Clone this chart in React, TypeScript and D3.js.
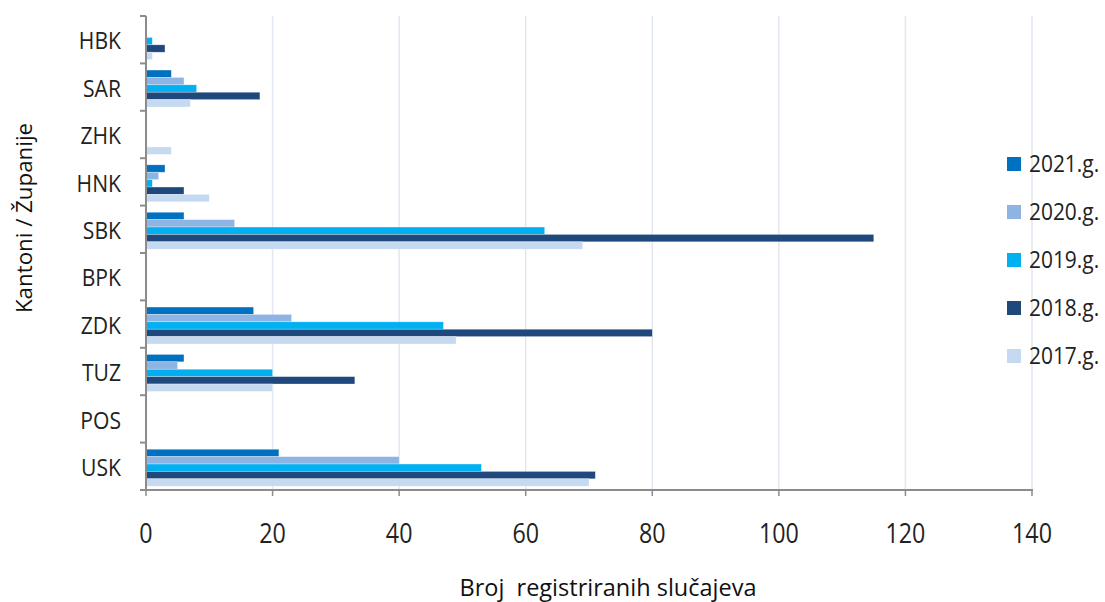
import React from "react";
import * as d3 from "d3";

const categories = ["HBK", "SAR", "ZHK", "HNK", "SBK", "BPK", "ZDK", "TUZ", "POS", "USK"];
const seriesNames = ["2021.g.", "2020.g.", "2019.g.", "2018.g.", "2017.g."];
const seriesColors = ["#0070C0", "#8DB4E2", "#00B0F0", "#1F497D", "#C5D9F1"];
const values2021 = [0, 4, 0, 3, 6, 0, 17, 6, 0, 21];
const values2020 = [0, 6, 0, 2, 14, 0, 23, 5, 0, 40];
const values2019 = [1, 8, 0, 1, 63, 0, 47, 20, 0, 53];
const values2018 = [3, 18, 0, 6, 115, 0, 80, 33, 0, 71];
const values2017 = [1, 7, 4, 10, 69, 0, 49, 20, 0, 70];
const seriesValues = [values2021, values2020, values2019, values2018, values2017];
const xTicks = [0, 20, 40, 60, 80, 100, 120, 140];

export default function App() {
  const W = 1105, H = 602;
  const left = 146, right = 1032, top = 16, bottom = 490;
  const x = d3.scaleLinear().domain([0, 140]).range([left, right]);
  const y = d3.scaleBand().domain(categories).range([top, bottom]).padding(0);
  const step = y.step();
  const barOffset = step * 0.14;
  const inner = d3.scaleBand().domain(seriesNames).range([0, step * 0.78]);
  const font = "'Open Sans', 'Noto Sans', sans-serif";
  return (
    <svg width={W} height={H} style={{ position: "absolute", left: 0, top: 0, background: "#fff" }}>
      {xTicks.slice(1).map((t) => (
        <line key={"g" + t} x1={x(t)} x2={x(t)} y1={top} y2={bottom} stroke="#E1E7F2" strokeWidth={1.5} />
      ))}
      {seriesValues.map((vals, si) =>
        categories.map((c, ci) =>
          vals[ci] > 0 ? (
            <rect
              key={si + "-" + c}
              x={x(0)}
              y={(y(c) as number) + barOffset + (inner(seriesNames[si]) as number)}
              width={x(vals[ci]) - x(0)}
              height={inner.bandwidth()}
              fill={seriesColors[si]}
              stroke="#ffffff"
              strokeOpacity={0.5}
              strokeWidth={0.6}
            />
          ) : null
        )
      )}
      <line x1={left} x2={left} y1={top} y2={bottom} stroke="#8C8C8C" strokeWidth={2} />
      <line x1={left - 6} x2={right + 1} y1={bottom} y2={bottom} stroke="#8C8C8C" strokeWidth={2} />
      {d3.range(categories.length).map((i) => (
        <line key={"yt" + i} x1={left - 6} x2={left} y1={top + step * i} y2={top + step * i} stroke="#8C8C8C" strokeWidth={2} />
      ))}
      {xTicks.map((t) => (
        <g key={"xt" + t}>
          <line x1={x(t)} x2={x(t)} y1={bottom} y2={bottom + 6} stroke="#8C8C8C" strokeWidth={1.5} />
          <text transform={`translate(${x(t)},${bottom + 53}) scale(0.83,1)`} textAnchor="middle" fontFamily={font} fontSize={28} fill="#222">
            {t}
          </text>
        </g>
      ))}
      {categories.map((c) => (
        <text
          key={"yl" + c}
          transform={`translate(121,${(y(c) as number) + step / 2 + 9.6}) scale(0.88,1)`}
          textAnchor="end"
          fontFamily={font}
          fontSize={24}
          fill="#222"
        >
          {c}
        </text>
      ))}
      {seriesNames.map((s, i) => (
        <g key={"lg" + s}>
          <rect x={1007} y={157 + i * 48} width={14} height={14} fill={seriesColors[i]} />
          <text transform={`translate(1029,${171.5 + i * 48}) scale(0.91,1)`} fontFamily={font} fontSize={23} fill="#222">
            {s}
          </text>
        </g>
      ))}
      <text x={608} y={596} textAnchor="middle" fontFamily={font} fontSize={23.5} fill="#111" style={{ whiteSpace: "pre" }}>
        {"Broj  registriranih slučajeva"}
      </text>
      <text transform="translate(32,218) rotate(-90)" textAnchor="middle" fontFamily={font} fontSize={22.3} fill="#111">
        Kantoni / Županije
      </text>
    </svg>
  );
}
